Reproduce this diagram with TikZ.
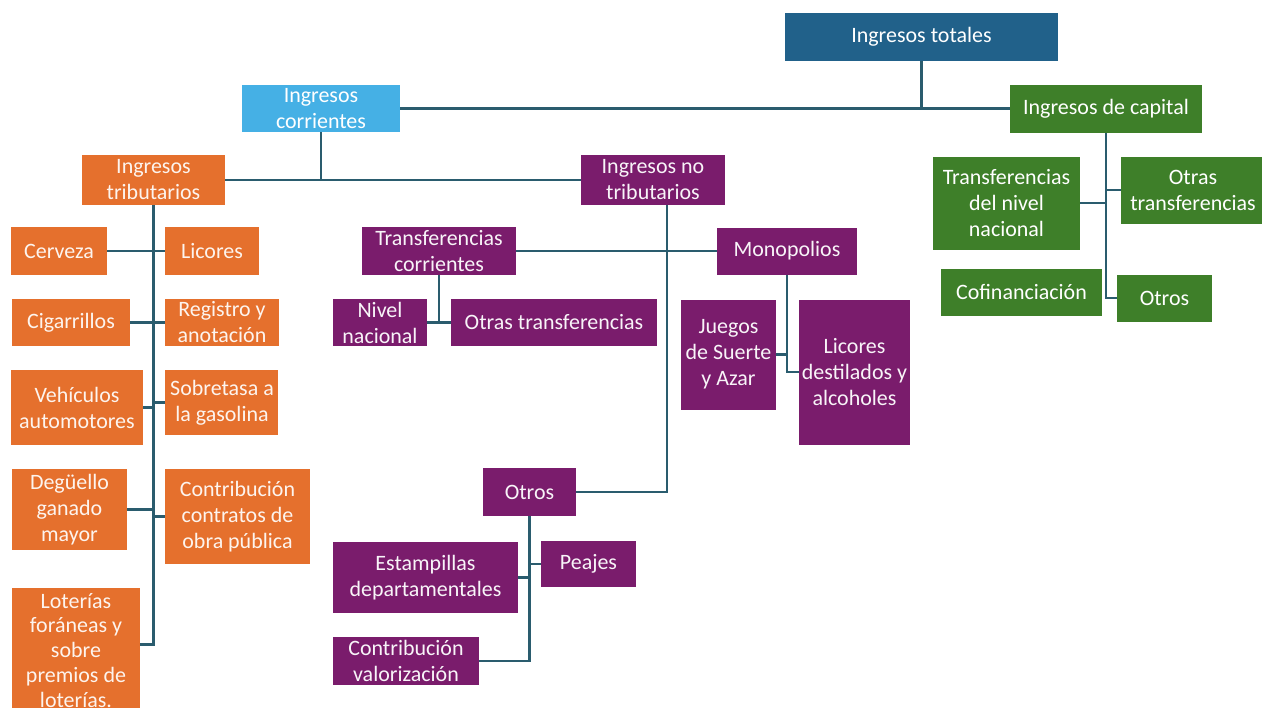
\documentclass[tikz,border=0pt]{standalone}
\usepackage{fontspec}
\setmainfont{Carlito}
\usepackage{tikz}
\usetikzlibrary{positioning}
\definecolor{totBlue}{HTML}{21618A}
\definecolor{corrBlue}{HTML}{45B0E5}
\definecolor{capGreen}{HTML}{3E7F29}
\definecolor{tribOrange}{HTML}{E5702D}
\definecolor{ntPurple}{HTML}{7A1C6C}
\definecolor{lineTeal}{HTML}{2A5C6E}
\tikzstyle{recNode} = [rectangle, text centered, align=center, inner sep=0pt, text=white, font=\fontsize{12.5}{14.8}\selectfont]
\tikzstyle{recNodeT} = [recNode, fill=totBlue]
\tikzstyle{recNodeC} = [recNode, fill=corrBlue]
\tikzstyle{recNodeK} = [recNode, fill=capGreen]
\tikzstyle{recNodeO} = [recNode, fill=tribOrange, text=white!92!tribOrange]
\tikzstyle{recNodeP} = [recNode, fill=ntPurple, text=white!95!ntPurple]
\tikzstyle{line} = [line width=1.4pt, draw=lineTeal]

\begin{document}
\begin{tikzpicture}[node distance=2cm]
    \useasboundingbox (-18.43,0.74) rectangle (6.81,-13.40);
    \node (tot) [recNodeT, minimum width=5.46cm, minimum height=0.96cm] {Ingresos totales};
    \node (corr) [recNodeC, below of=tot, xshift=-12.01cm, yshift=0.57cm, minimum width=3.16cm, minimum height=0.94cm] {Ingresos\\corrientes};
    \node (cap) [recNodeK, below of=tot, xshift=3.69cm, yshift=0.57cm, minimum width=3.84cm, minimum height=0.96cm] {Ingresos de capital};
    \node (trib) [recNodeO, below of=corr, xshift=-3.35cm, yshift=0.57cm, minimum width=2.86cm, minimum height=1cm] {Ingresos\\tributarios};
    \node (notrib) [recNodeP, right of=trib, xshift=7.99cm, minimum width=2.88cm, minimum height=1cm] {Ingresos no\\tributarios};

    % tributarios
    \node (cerveza) [recNodeO, below of=trib, xshift=-1.89cm, yshift=0.58cm, minimum width=1.92cm, minimum height=0.96cm] {Cerveza};
    \node (licores) [recNodeO, right of=cerveza, xshift=1.06cm, minimum width=1.88cm, minimum height=0.96cm] {Licores};
    \node (cigarrillos) [recNodeO, below of=cerveza, xshift=0.24cm, yshift=0.57cm, minimum width=2.36cm, minimum height=0.94cm] {Cigarrillos};
    \node (registro) [recNodeO, right of=cigarrillos, xshift=1.02cm, minimum width=2.28cm, minimum height=0.94cm] {Registro y\\anotación};
    \node (vehiculos) [recNodeO, below of=cigarrillos, xshift=0.12cm, yshift=0.30cm, minimum width=2.64cm, minimum height=1.5cm] {Vehículos\\automotores};
    \node (sobretasa) [recNodeO, right of=vehiculos, xshift=0.90cm, yshift=0.10cm, minimum width=2.26cm, minimum height=1.3cm] {Sobretasa a\\la gasolina};
    \node (deguello) [recNodeO, below of=vehiculos, xshift=-0.15cm, yshift=-0.04cm, minimum width=2.30cm, minimum height=1.62cm] {Degüello\\ganado\\mayor};
    \node (contrib) [recNodeO, right of=deguello, xshift=1.36cm, yshift=-0.14cm, minimum width=2.90cm, minimum height=1.9cm] {Contribución\\contratos de\\obra pública};
    \node (loterias) [recNodeO, below of=deguello, xshift=0.13cm, yshift=-0.82cm, minimum width=2.56cm, minimum height=2.5cm, font=\fontsize{12.5}{14.2}\selectfont] {Loterías\\foráneas y\\sobre\\premios de\\loterías.};

    % no tributarios
    \node (transcorr) [recNodeP, below of=notrib, xshift=-4.28cm, yshift=0.58cm, minimum width=3.08cm, minimum height=0.96cm] {Transferencias\\corrientes};
    \node (monop) [recNodeP, right of=transcorr, xshift=4.96cm, minimum width=2.80cm, minimum height=0.94cm] {Monopolios};
    \node (nivel) [recNodeP, below of=transcorr, xshift=-1.18cm, yshift=0.57cm, minimum width=1.88cm, minimum height=0.94cm] {Nivel\\nacional};
    \node (otrastrans) [recNodeP, right of=nivel, xshift=1.48cm, minimum width=4.12cm, minimum height=0.94cm] {Otras transferencias};
    \node (juegos) [recNodeP, below of=monop, xshift=-1.17cm, yshift=-0.07cm, minimum width=1.90cm, minimum height=2.2cm] {Juegos\\de Suerte\\y Azar};
    \node (licdest) [recNodeP, right of=juegos, xshift=0.52cm, yshift=-0.35cm, minimum width=2.22cm, minimum height=2.9cm] {Licores\\destilados y\\alcoholes};
    \node (otrosnt) [recNodeP, below of=notrib, xshift=-2.47cm, yshift=-4.24cm, minimum width=1.86cm, minimum height=0.96cm] {Otros};
    \node (estamp) [recNodeP, below of=otrosnt, xshift=-2.08cm, yshift=0.29cm, minimum width=3.70cm, minimum height=1.42cm] {Estampillas\\departamentales};
    \node (peajes) [recNodeP, right of=estamp, xshift=1.26cm, yshift=0.27cm, minimum width=1.90cm, minimum height=0.92cm] {Peajes};
    \node (contval) [recNodeP, below of=estamp, xshift=-0.39cm, yshift=0.33cm, minimum width=2.92cm, minimum height=0.96cm] {Contribución\\valorización};

    % capital
    \node (transnac) [recNodeK, below of=cap, xshift=-1.99cm, yshift=0.11cm, minimum width=2.94cm, minimum height=1.86cm] {Transferencias\\del nivel\\nacional};
    \node (otrastransk) [recNodeK, right of=transnac, xshift=1.73cm, yshift=0.26cm, minimum width=2.88cm, minimum height=1.34cm] {Otras\\transferencias};
    \node (cofin) [recNodeK, below of=transnac, xshift=0.30cm, yshift=0.22cm, minimum width=3.22cm, minimum height=0.94cm] {Cofinanciación};
    \node (otrosk) [recNodeK, right of=cofin, xshift=0.86cm, yshift=-0.12cm, minimum width=1.90cm, minimum height=0.94cm] {Otros};

    \draw [line] (tot.south) -- (tot.south |- cap.west);
    \draw [line] (corr.east) -- (cap.west);
    \draw [line] (corr.south) -- (corr.south |- trib.east);
    \draw [line] (trib.east) -- (notrib.west);

    \draw [line] (trib.south) |- ([yshift=0.12cm]loterias.east);
    \draw [line] (cerveza) -- (licores);
    \draw [line] (cigarrillos) -- (registro);
    \draw [line] (vehiculos.east) -- (vehiculos.east -| trib.south);
    \draw [line] (sobretasa.west) -- (sobretasa.west -| trib.south);
    \draw [line] (deguello.east) -- (deguello.east -| trib.south);
    \draw [line] (contrib.west) -- (contrib.west -| trib.south);

    \coordinate (ntspine) at ([xshift=0.28cm]notrib.south);
    \draw [line] (ntspine) |- (otrosnt.east);
    \draw [line] (transcorr.east) -- (monop.west);
    \draw [line] (transcorr.south) -- (transcorr.south |- nivel.east);
    \draw [line] (nivel.east) -- (otrastrans.west);
    \draw [line] (monop.south) |- (licdest.west);
    \draw [line] (juegos.east) -- (juegos.east -| monop.south);
    \draw [line] (otrosnt.south) |- (contval.east);
    \draw [line] (estamp.east) -- (estamp.east -| otrosnt.south);
    \draw [line] (peajes.west) -- (peajes.west -| otrosnt.south);

    \draw [line] (cap.south) |- (otrosk.west);
    \draw [line] (transnac.east) -- (transnac.east -| cap.south);
    \draw [line] (otrastransk.west) -- (otrastransk.west -| cap.south);
\end{tikzpicture}
\end{document}
